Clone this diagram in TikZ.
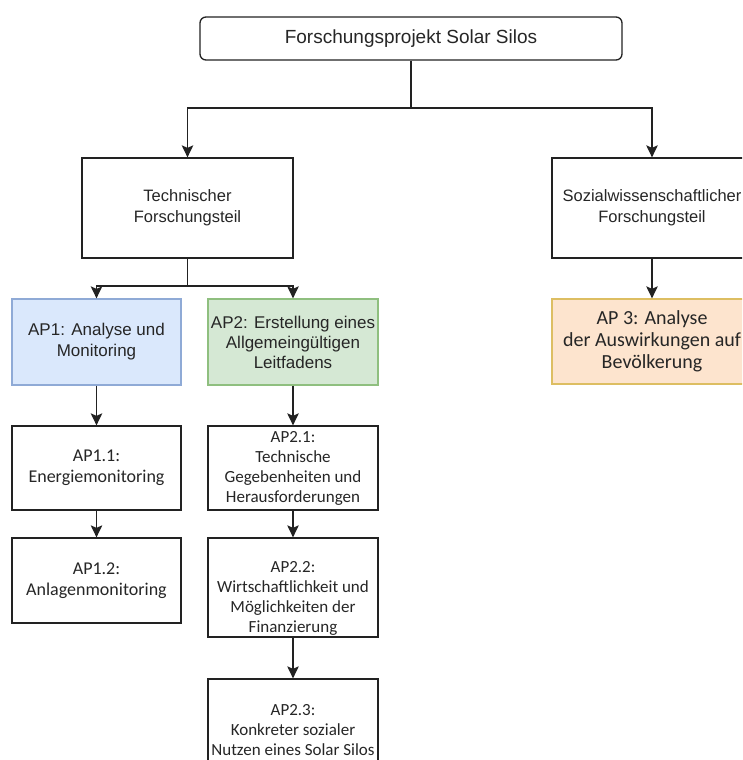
\documentclass[tikz,border=0pt]{standalone}
\usepackage{fontspec}
\setmainfont{Liberation Sans}
\newfontfamily\calfont{Carlito}
\usetikzlibrary{arrows.meta}
\definecolor{ink}{HTML}{222222}
\definecolor{txt}{HTML}{262626}
\definecolor{bluefill}{HTML}{DAE8FC}
\definecolor{blueline}{HTML}{8FAAD6}
\definecolor{greenfill}{HTML}{D5E8D4}
\definecolor{greenline}{HTML}{8FBF7F}
\definecolor{orangefill}{HTML}{FDE4CE}
\definecolor{orangeline}{HTML}{DDBE62}
\begin{document}
\begin{tikzpicture}[x=1pt,y=-1pt,
  box/.style={draw=ink, line width=1.3pt, fill=white, inner sep=2pt, align=center, text=txt},
  plain/.style={inner sep=0pt, align=center, text=txt},
  conn/.style={draw=ink, line width=1.3pt},
  arr/.style={conn, -{Stealth[length=12pt,width=11.5pt,inset=2.5pt]}},
  fA/.style={font=\fontsize{17}{21}\selectfont},
  fB/.style={font=\fontsize{16.5}{21}\selectfont},
  fC/.style={font=\calfont\fontsize{18}{21}\selectfont},
  fD/.style={font=\calfont\fontsize{17}{20}\selectfont},
  fE/.style={font=\calfont\fontsize{20}{22}\selectfont}]
\useasboundingbox (0,0) rectangle (742,760);
\fill[white] (0,0) rectangle (742,760);
\begin{scope}
\clip (0,0) rectangle (742,760);
% nodes
\node[box, rounded corners=6pt, minimum width=422pt, minimum height=43pt,
      font=\fontsize{19}{22}\selectfont] (top) at (411,38.5) {Forschungsprojekt Solar Silos};
\node[box, fB, minimum width=211pt, minimum height=100pt] (tech) at (187.5,208)
  {Technischer\\Forschungsteil};
\node[box, fB, minimum width=200pt, minimum height=100pt] (soz) at (652,208)
  {Sozialwissenschaftlicher\\Forschungsteil};
\node[box, fA, fill=bluefill, draw=blueline, minimum width=169pt, minimum height=86pt] (ap1) at (96.5,342)
  {AP1: Analyse und\\Monitoring};
\node[box, font=\fontsize{17}{20}\selectfont, fill=greenfill, draw=greenline, minimum width=170pt, minimum height=86pt] (ap2) at (293,342)
  {AP2: Erstellung eines\\Allgemeingültigen\\Leitfadens};
\node[box, fE, fill=orangefill, draw=orangeline, minimum width=200pt, minimum height=85pt] (ap3) at (652,341.5)
  {AP 3: Analyse\\der Auswirkungen auf\\Bevölkerung};
\node[box, fC, minimum width=169pt, minimum height=84pt] (ap11) at (96.5,468)
  {AP1.1:\\Energiemonitoring};
\node[box, fC, minimum width=169pt, minimum height=85pt] (ap12) at (96.5,580.5)
  {AP1.2:\\Anlagenmonitoring};
\node[box, fD, minimum width=170pt, minimum height=84pt] (ap21) at (293,468)
  {AP2.1:\\Technische\\Gegebenheiten und\\Herausforderungen};
\node[box, minimum width=170pt, minimum height=99pt] (ap22) at (293,587.5) {};
\node[plain, fD] (ap22t) at (293,598)
  {AP2.2:\\Wirtschaftlichkeit und\\Möglichkeiten der\\Finanzierung};
\node[box, fD, minimum width=170pt, minimum height=102pt] (ap23) at (293,730)
  {AP2.3:\\Konkreter sozialer\\Nutzen eines Solar Silos};
% connectors
\coordinate (j0) at (411,108);
\coordinate (j1) at (187.5,286);
\draw[conn] (top.south) -- (j0);
\draw[arr] (j0) -| (tech.north);
\draw[arr] (j0) -| (soz.north);
\draw[conn] (tech.south) -- (j1);
\draw[arr] (j1) -| (ap1.north);
\draw[arr] (j1) -| (ap2.north);
\draw[arr] (soz.south) -- (ap3.north);
\draw[arr] (ap1.south) -- (ap11.north);
\draw[arr] (ap11.south) -- (ap12.north);
\draw[arr] (ap2.south) -- (ap21.north);
\draw[arr] (ap21.south) -- (ap22.north);
\draw[arr] (ap22.south) -- (ap23.north);
\end{scope}
\end{tikzpicture}
\end{document}
